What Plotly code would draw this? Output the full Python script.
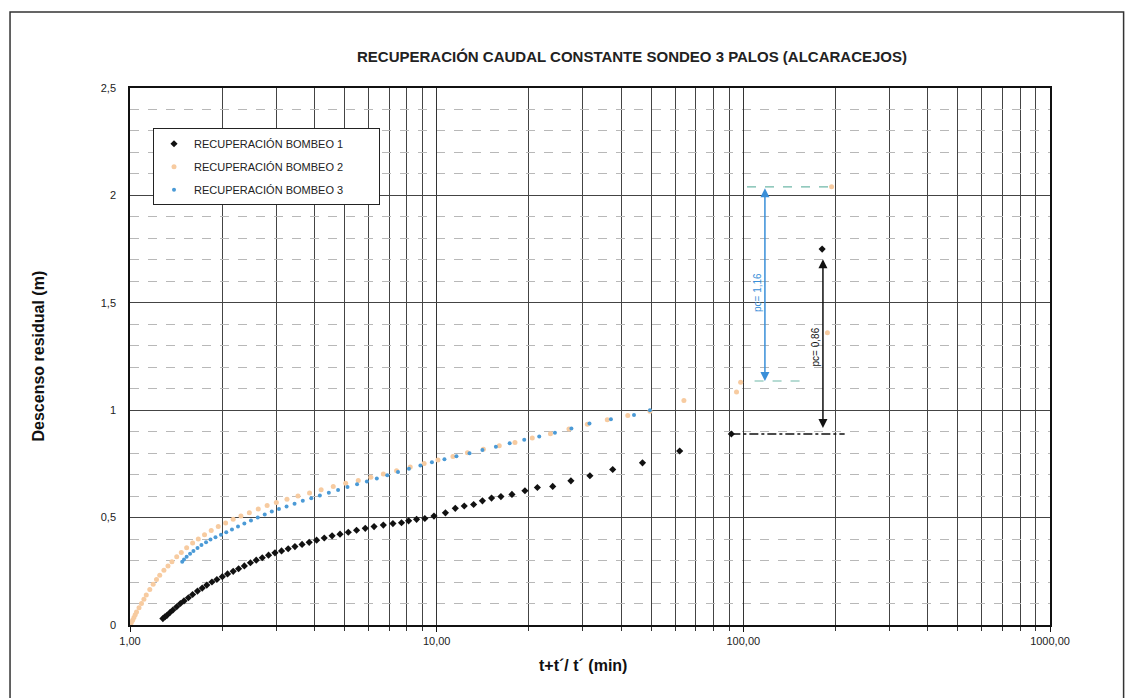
import math
import plotly.graph_objects as go

# ---------------- data ----------------
b1_x = [1.28, 1.30, 1.32, 1.35, 1.38, 1.42, 1.46, 1.50, 1.55, 1.60, 1.66, 1.72, 1.78, 1.85,
        1.92, 2.00, 2.08, 2.17, 2.26, 2.36, 2.47, 2.58, 2.70, 2.83, 2.97, 3.12, 3.28, 3.45,
        3.64, 3.84, 4.06, 4.30, 4.56, 4.84, 5.15, 5.48, 5.85, 6.25, 6.70, 7.20, 7.68, 8.10,
        8.60, 9.15, 9.80, 10.68, 11.5, 12.3, 13.2, 14.1, 15.1, 16.2, 17.6, 19.4, 21.3, 23.9,
        27.4, 31.6, 37.5, 46.9, 62.0, 91.4, 180.7]
b1_y = [0.030, 0.038, 0.045, 0.058, 0.070, 0.085, 0.100, 0.112, 0.127, 0.142, 0.158, 0.172,
        0.186, 0.200, 0.212, 0.225, 0.238, 0.250, 0.262, 0.275, 0.290, 0.302, 0.313, 0.325,
        0.336, 0.345, 0.355, 0.365, 0.375, 0.385, 0.395, 0.405, 0.415, 0.423, 0.432, 0.441,
        0.450, 0.458, 0.465, 0.472, 0.476, 0.485, 0.492, 0.496, 0.507, 0.522, 0.543, 0.554,
        0.561, 0.578, 0.591, 0.598, 0.608, 0.625, 0.640, 0.645, 0.671, 0.695, 0.724, 0.755,
        0.810, 0.889, 1.750]

b2_x = [1.00, 1.01, 1.02, 1.03, 1.04, 1.05, 1.07, 1.09, 1.11, 1.13, 1.16, 1.19, 1.22, 1.25,
        1.29, 1.33, 1.37, 1.42, 1.47, 1.53, 1.60, 1.67, 1.75, 1.84, 1.94, 2.05, 2.17, 2.30,
        2.45, 2.62, 2.80, 3.00, 3.25, 3.53, 3.85, 4.20, 4.60, 5.05, 5.55, 6.10, 6.70, 7.40,
        8.20, 9.10, 10.1, 11.3, 12.6, 14.2, 16.0, 18.0, 20.5, 23.5, 27.0, 31.0, 36.0, 42.0,
        49.6, 64.0, 95.0, 98.0, 188.0, 194.0]
b2_y = [0.000, 0.010, 0.022, 0.035, 0.048, 0.060, 0.080, 0.100, 0.120, 0.140, 0.165, 0.190,
        0.212, 0.232, 0.255, 0.275, 0.295, 0.318, 0.338, 0.360, 0.382, 0.400, 0.420, 0.440,
        0.458, 0.475, 0.492, 0.508, 0.523, 0.540, 0.556, 0.570, 0.585, 0.600, 0.615, 0.630,
        0.645, 0.660, 0.673, 0.688, 0.703, 0.718, 0.735, 0.752, 0.768, 0.785, 0.802, 0.818,
        0.835, 0.850, 0.870, 0.890, 0.912, 0.935, 0.955, 0.975, 0.995, 1.045, 1.085, 1.130,
        1.360, 2.040]

b3_x = [1.48, 1.50, 1.53, 1.57, 1.61, 1.66, 1.71, 1.77, 1.83, 1.90, 1.98, 2.06, 2.15, 2.25,
        2.36, 2.48, 2.61, 2.75, 2.90, 3.06, 3.24, 3.44, 3.66, 3.90, 4.16, 4.45, 4.77, 5.12,
        5.50, 5.92, 6.38, 6.90, 7.48, 8.12, 8.85, 9.65, 10.6, 11.6, 12.8, 14.1, 15.6, 17.3,
        19.3, 21.6, 24.3, 27.5, 31.5, 37.0, 44.0, 49.6]
b3_y = [0.295, 0.305, 0.318, 0.332, 0.345, 0.358, 0.372, 0.385, 0.398, 0.408, 0.420, 0.432,
        0.445, 0.458, 0.472, 0.487, 0.500, 0.515, 0.528, 0.540, 0.552, 0.565, 0.578, 0.590,
        0.603, 0.616, 0.628, 0.642, 0.655, 0.668, 0.682, 0.697, 0.712, 0.728, 0.743, 0.758,
        0.772, 0.786, 0.800, 0.815, 0.830, 0.846, 0.862, 0.878, 0.895, 0.915, 0.938, 0.958,
        0.978, 1.000]

series_names = ["RECUPERACIÓN BOMBEO 1", "RECUPERACIÓN BOMBEO 2", "RECUPERACIÓN BOMBEO 3"]

x_tickvals = [1, 10, 100, 1000]
x_ticktext = ["1,00", "10,00", "100,00", "1000,00"]
x_minor = [m * d for d in (1, 10, 100) for m in range(2, 10)]
y_tickvals = [0, 0.5, 1, 1.5, 2, 2.5]
y_ticktext = ["0", "0,5", "1", "1,5", "2", "2,5"]

# pc annotations (data units)
pc1_x, pc1_y0, pc1_y1, pc1_label = 181.8, 0.917, 1.71, "pc= 0,86"
pc1_base_x, pc1_base_y = [91.4, 214.0], [0.889, 0.889]
pc2_x, pc2_y0, pc2_y1, pc2_label = 117.6, 1.136, 2.04, "pc= 1,16"
pc2_top_x, pc2_top_y = [102.8, 191.5], [2.04, 2.04]
pc2_bot_x, pc2_bot_y = [108.8, 152.8], [1.136, 1.136]

FONT = "Arial, 'Liberation Sans', sans-serif"
PAD = "\u00a0" * 10

fig = go.Figure()
fig.add_trace(go.Scatter(x=b2_x, y=b2_y, mode="markers", name=series_names[1] + PAD,
                         marker=dict(color="#f7cba0", size=5, symbol="circle"),
                         legendgroup="g2", legendrank=2))
fig.add_trace(go.Scatter(x=b3_x, y=b3_y, mode="markers", name=series_names[2] + PAD,
                         marker=dict(color="#4b9ad6", size=4, symbol="circle"),
                         legendgroup="g3", legendrank=3))
fig.add_trace(go.Scatter(x=b1_x, y=b1_y, mode="markers", name=series_names[0] + PAD,
                         marker=dict(color="#111111", size=5.5, symbol="diamond"),
                         legendgroup="g1", legendrank=1))

# reference lines for pc
fig.add_trace(go.Scatter(x=pc1_base_x, y=pc1_base_y, mode="lines", showlegend=False,
                         line=dict(color="#111111", width=1.5, dash="dashdot"), hoverinfo="skip"))
fig.add_trace(go.Scatter(x=pc2_top_x, y=pc2_top_y, mode="lines", showlegend=False,
                         line=dict(color="#6fb8a8", width=1.2, dash="dash"), hoverinfo="skip"))
fig.add_trace(go.Scatter(x=pc2_bot_x, y=pc2_bot_y, mode="lines", showlegend=False,
                         line=dict(color="#6fb8a8", width=1.2, dash="dash"), hoverinfo="skip"))

annotations = [
    dict(x=math.log10(pc1_x), y=pc1_y0, ax=math.log10(pc1_x), ay=pc1_y1, xref="x", yref="y",
         axref="x", ayref="y", text="", showarrow=True, arrowhead=2, startarrowhead=2,
         arrowside="end+start", arrowsize=1.2, arrowwidth=1.5, arrowcolor="#111111"),
    dict(x=math.log10(pc2_x), y=pc2_y0, ax=math.log10(pc2_x), ay=pc2_y1, xref="x", yref="y",
         axref="x", ayref="y", text="", showarrow=True, arrowhead=2, startarrowhead=2,
         arrowside="end+start", arrowsize=1.2, arrowwidth=1.5, arrowcolor="#3a8fd8"),
    dict(x=math.log10(pc1_x) - 0.025, y=(pc1_y0 + pc1_y1) / 2 - 0.02, xref="x", yref="y",
         text=pc1_label, showarrow=False, textangle=-90,
         font=dict(family=FONT, size=10, color="#111111")),
    dict(x=math.log10(pc2_x) - 0.024, y=(pc2_y0 + pc2_y1) / 2 - 0.04, xref="x", yref="y",
         text=pc2_label, showarrow=False, textangle=-90,
         font=dict(family=FONT, size=10, color="#3a8fd8")),
    dict(text="<b>Descenso residual (m)</b>", xref="paper", yref="paper", x=-0.1, y=0.5,
         xanchor="center", yanchor="middle",
         showarrow=False, textangle=-90, font=dict(family=FONT, size=16, color="#111111")),
    dict(text="<b>t+t\u00b4/ t\u00b4 (min)</b>", xref="paper", yref="paper", x=0.492, y=-0.075,
         xanchor="center", yanchor="middle",
         showarrow=False, font=dict(family=FONT, size=16, color="#111111")),
    dict(text="<b>RECUPERACIÓN CAUDAL CONSTANTE SONDEO 3 PALOS (ALCARACEJOS)</b>",
         xref="paper", yref="paper", x=0.5457, y=1.058, xanchor="center", yanchor="middle",
         showarrow=False, font=dict(family=FONT, size=15, color="#222222")),
]

fig.update_layout(
    width=1134, height=698,
    margin=dict(l=130, r=84, t=88, b=73),
    paper_bgcolor="white", plot_bgcolor="white",
    font=dict(family=FONT, size=11, color="#222222"),
    annotations=annotations,
    showlegend=True,
    legend=dict(x=0.025, y=0.925, xanchor="left", yanchor="top",
                bgcolor="white", bordercolor="#222222", borderwidth=1,
                font=dict(family=FONT, size=11, color="#222222"),
                tracegroupgap=4, itemsizing="trace", traceorder="grouped"),
    shapes=[dict(type="rect", xref="paper", yref="paper", x0=-0.1304, x1=1.080,
                 y0=-0.2, y1=1.1415, line=dict(color="#333333", width=1.5))],
)

fig.update_xaxes(type="log", range=[0, 3],
                 tickvals=x_tickvals, ticktext=x_ticktext,
                 showgrid=True, gridcolor="#333333", gridwidth=1,
                 showline=True, linecolor="#111111", linewidth=1.5, mirror=True,
                 ticks="outside", ticklen=5, tickcolor="#111111",
                 tickfont=dict(family=FONT, size=11, color="#222222"),
                 minor=dict(tickvals=x_minor, showgrid=True, gridcolor="#444444", gridwidth=1,
                            ticks="outside", ticklen=4, tickcolor="#333333"),
                 zeroline=False)
fig.update_yaxes(range=[0, 2.5],
                 tickvals=y_tickvals, ticktext=y_ticktext,
                 showgrid=True, gridcolor="#444444", gridwidth=1,
                 showline=True, linecolor="#111111", linewidth=1.5, mirror=True,
                 ticks="", ticklabelstandoff=10,
                 tickfont=dict(family=FONT, size=11, color="#222222"),
                 minor=dict(dtick=0.1, showgrid=True, gridcolor="#b8b8b8", gridwidth=1,
                            griddash="dash"),
                 zeroline=False)

fig.write_html("out.html")
